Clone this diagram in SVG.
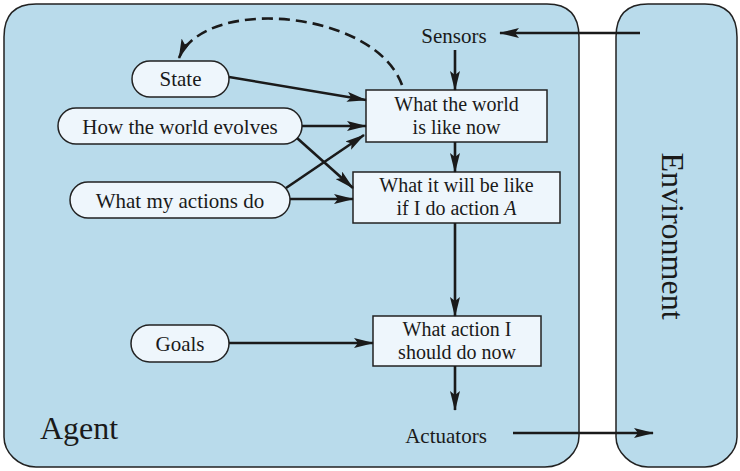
<svg xmlns="http://www.w3.org/2000/svg" width="740" height="471" viewBox="0 0 740 471">
<style>
.frame{fill:#b9dbeb;stroke:#222;stroke-width:1.5}
.box{fill:#eef6fc;stroke:#222;stroke-width:1.5}
.t{font-family:"Liberation Serif","Times New Roman",serif;font-size:21px;fill:#1a1a1a;text-anchor:middle}
.s{font-size:20px}
.big{font-size:32px}
.c{fill:none;stroke:#1a1a1a;stroke-width:2.6}
.a{marker-end:url(#ah)}
.dash{stroke-dasharray:11 6}
</style>
<defs>
<marker id="ah" markerUnits="userSpaceOnUse" viewBox="0 0 20 10" refX="19" refY="5" markerWidth="20" markerHeight="10" orient="auto">
<path d="M0,0 L20,5 L0,10 L4,5 Z" fill="#1a1a1a"/>
</marker>
</defs>
<g id="agent">
<path class="frame" d="M36,4 L547,4 Q579,4 579,37 L579,436 C579,451 565,467 545,467 L36,467 C18,467 4,452 4,437 L4,37 Q4,4 36,4 Z"/>
<text class="t big" x="79" y="439">Agent</text>
</g>
<g id="environment">
<path class="frame" d="M616,37 Q616,4 648,4 L705,4 Q737,4 737,37 L737,437 C737,452 722,467 705,467 L648,467 C631,467 616,452 616,437 Z"/>
<text class="t big" transform="translate(662,236) rotate(90)" x="0" y="0">Environment</text>
</g>
<g id="sensors"><text class="t" x="454" y="43">Sensors</text></g>
<g id="actuators"><text class="t" x="446" y="443">Actuators</text></g>
<g id="state"><rect class="box" x="132" y="61" width="97" height="36" rx="18"/><text class="t" x="180.5" y="86">State</text></g>
<g id="evolves"><rect class="box" x="58" y="108" width="244" height="36" rx="18"/><text class="t" x="180" y="134">How the world evolves</text></g>
<g id="actions"><rect class="box" x="70" y="182" width="220" height="36" rx="18"/><text class="t" x="180" y="208">What my actions do</text></g>
<g id="goals"><rect class="box" x="131" y="325" width="98" height="37" rx="18.5"/><text class="t" x="180" y="351">Goals</text></g>
<g id="world-now"><rect class="box" x="366" y="90" width="181" height="52"/><text class="t s" x="456.5" y="111">What the world</text><text class="t s" x="456.5" y="134">is like now</text></g>
<g id="will-be"><rect class="box" x="353" y="172" width="207" height="51"/><text class="t s" x="456.5" y="192">What it will be like</text><text class="t s" x="456.5" y="215">if I do action <tspan font-style="italic">A</tspan></text></g>
<g id="action-now"><rect class="box" x="373" y="316" width="168" height="50"/><text class="t s" x="457" y="336">What action I</text><text class="t s" x="457" y="359">should do now</text></g>
<g id="connectors">
<path class="c a" d="M640,33 L500,33"/>
<path class="c a" d="M455,50 L455,90"/>
<path class="c a" d="M455,142 L455,172"/>
<path class="c a" d="M455,223 L455,316"/>
<path class="c a" d="M455,366 L455,410"/>
<path class="c a" d="M513,433 L653,433"/>
<path class="c a" d="M229,77 L366,100"/>
<path class="c a" d="M302,126 L366,126"/>
<path class="c a" d="M297,138 L353,188"/>
<path class="c a" d="M286,188 L364,135"/>
<path class="c a" d="M290,199 L353,199"/>
<path class="c a" d="M229,343 L373,343"/>
<path class="c a dash" d="M402,85 C375,10 205,-5 179,58"/>
</g>
</svg>
